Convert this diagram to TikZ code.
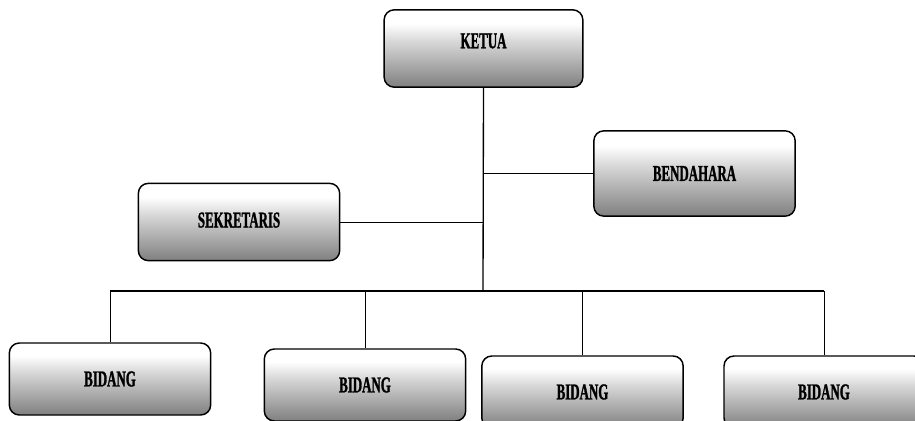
\documentclass[tikz,border=0pt]{standalone}
\usepackage{fontspec}
\setmainfont{Liberation Serif}[FakeStretch=0.57, BoldFeatures={FakeBold=1.2}]
\pgfdeclareverticalshading{boxshade}{100bp}{color(0bp)=(black!68); color(25bp)=(black!50); color(55bp)=(black!15); color(66bp)=(white); color(100bp)=(white)}
\tikzset{every picture/.style={line width=0.75pt}}
\tikzset{unitbox/.style={draw=black, line width=1.1pt, rounded corners=7.5pt, shading=boxshade, inner sep=0pt, font=\fontsize{17}{20}\selectfont\bfseries}}

\begin{document}
\begin{tikzpicture}[x=0.75pt,y=0.75pt,yscale=-1,xscale=1]
\useasboundingbox (0,0) rectangle (915,421);
\clip (0,0) rectangle (915,421);

%Rounded Rect [id:ketua] 
\node (ketua) at (483.5,48.5) [unitbox, minimum width=149pt, minimum height=58pt, text depth=11.5pt] {KETUA};
%Rounded Rect [id:bendahara] 
\node (bendahara) at (694.5,173.5) [unitbox, minimum width=151pt, minimum height=64pt] {BENDAHARA};
%Rounded Rect [id:sekretaris] 
\node (sekretaris) at (239,222) [unitbox, minimum width=151pt, minimum height=58pt, text depth=3pt] {SEKRETARIS};
%Rounded Rect [id:bidang] 
\node (bidanga) at (110,379) [unitbox, minimum width=151pt, minimum height=54pt] {BIDANG};
\node (bidangb) at (365,385) [unitbox, minimum width=151pt, minimum height=54pt] {BIDANG};
\node (bidangc) at (582.5,392) [unitbox, minimum width=151pt, minimum height=54pt] {BIDANG};
\node (bidangd) at (824,392) [unitbox, minimum width=150pt, minimum height=54pt] {BIDANG};

\coordinate (bus) at (483,291);

%Straight Lines 
\draw [line width=1pt]   (ketua.south) -- (bus) ;
\draw    (ketua.south |- bendahara.west) -- (bendahara.west) ;
\draw    (sekretaris.east) -- (sekretaris.east -| ketua.south) ;
\draw [line width=1pt]   (bus -| bidanga.north) -- (bus -| bidangd.north) ;
\foreach \b in {bidanga,bidangb,bidangc,bidangd}
  \draw    (bus -| \b.north) -- (\b.north) ;

\end{tikzpicture}
\end{document}
